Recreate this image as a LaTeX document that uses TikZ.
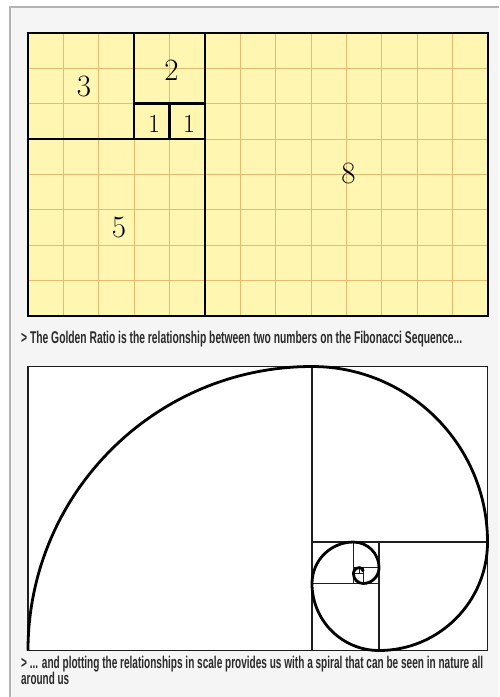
\documentclass[tikz,border=0pt]{standalone}
\usepackage{fontspec}
\usepackage{graphicx}
\newfontfamily\capfont{Liberation Sans}
\definecolor{paper}{HTML}{F5F5F5}
\definecolor{cellfill}{HTML}{FFF6B2}
\definecolor{gridc}{HTML}{E8BA70}
\definecolor{framec}{HTML}{B3B3B3}
\definecolor{captext}{HTML}{2B2B2B}
\definecolor{linec}{HTML}{1E1E1E}
\tikzset{
  gridline/.style={gridc, line width=0.9pt},
  thick line/.style={black, line width=2.6pt, line cap=rect},
  digit/.style={inner sep=0pt, font=\fontsize{31}{31}\selectfont},
  digitsmall/.style={inner sep=0pt, font=\fontsize{26}{26}\selectfont},
  divline/.style={linec, line width=1.4pt},
  spiralline/.style={black, line width=2.8pt},
  caption/.style={inner sep=0pt, anchor=base west, text=captext,
    font=\capfont\bfseries\fontsize{17}{17}\selectfont},
}
\begin{document}
\begin{tikzpicture}[x=1pt,y=-1pt]
\useasboundingbox (0,0) rectangle (499,697);
\fill[white] (0,0) rectangle (499,697);
\fill[paper] (10,7) rectangle (499,697);
\draw[framec, line width=2pt] (10,697) -- (10,7) -- (499,7);

% ---- top panel: Fibonacci squares on a grid
\fill[cellfill] (28,33) rectangle (488,316);
\foreach \gx in {63.38,98.77,134.15,169.54,204.92,240.31,275.69,311.08,346.46,381.85,417.23,452.62}
  \draw[gridline] (\gx,33) -- (\gx,316);
\foreach \gy in {68.375,103.75,139.125,174.5,209.875,245.25,280.625}
  \draw[gridline] (28,\gy) -- (488,\gy);
\draw[thick line] (28,33) rectangle (488,316);
\draw[thick line] (134.15,33) -- (134.15,139.125);
\draw[thick line] (204.92,33) -- (204.92,316);
\draw[thick line] (28,139.125) -- (204.92,139.125);
\draw[thick line] (134.15,103.75) -- (204.92,103.75);
\draw[thick line] (169.54,103.75) -- (169.54,139.125);

\node[digit] (n3) at (84,86) {3};
\node[digit] (n2) at (171.5,70) {2};
\node[digitsmall] (n1a) at (154,123.5) {1};
\node[digitsmall] (n1b) at (189,123.5) {1};
\node[digit] (n5) at (119,227.5) {5};
\node[digit] (n8) at (348.5,173) {8};

\node[caption] (cap1) at (21,343)
  {\resizebox{441pt}{\height}{> The Golden Ratio is the relationship between two numbers on the Fibonacci Sequence...}};

% ---- bottom panel: golden spiral
\fill[white] (28,366.5) rectangle (487.52,650.5);
\draw[divline] (28,366.5) rectangle (487.52,650.5);
\draw[divline] (312,366.5) -- (312,650.5);
\draw[divline] (312,542.02) -- (487.52,542.02);
\draw[divline] (379.04,542.02) -- (379.04,650.5);
\draw[divline] (312,583.46) -- (379.04,583.46);
\draw[divline] (353.43,542.02) -- (353.43,583.46);
\draw[divline] (353.43,567.63) -- (379.04,567.63);
\draw[divline, line width=1pt] (363.21,567.63) -- (363.21,583.46);
\draw[divline, line width=0.9pt] (353.43,573.68) -- (363.21,573.68);
\draw[divline, line width=0.8pt] (359.47,567.63) -- (359.47,573.68);

\draw[spiralline] (28,650.5)
  arc[start angle=180, end angle=90, radius=284pt]
  arc[start angle=90, end angle=0, radius=175.52pt]
  arc[start angle=0, end angle=-90, radius=108.48pt]
  arc[start angle=-90, end angle=-180, radius=67.04pt]
  arc[start angle=180, end angle=90, radius=41.43pt]
  arc[start angle=90, end angle=0, radius=25.61pt]
  arc[start angle=0, end angle=-90, radius=15.83pt]
  arc[start angle=-90, end angle=-180, radius=9.78pt]
  arc[start angle=180, end angle=90, radius=6.04pt]
  arc[start angle=90, end angle=0, radius=3.74pt];

\node[caption] (cap2a) at (21,668.5)
  {\resizebox{462pt}{\height}{> ... and plotting the relationships in scale provides us with a spiral that can be seen in nature all}};
\node[caption] (cap2b) at (21,684)
  {\resizebox{48pt}{\height}{around us}};
\end{tikzpicture}
\end{document}
